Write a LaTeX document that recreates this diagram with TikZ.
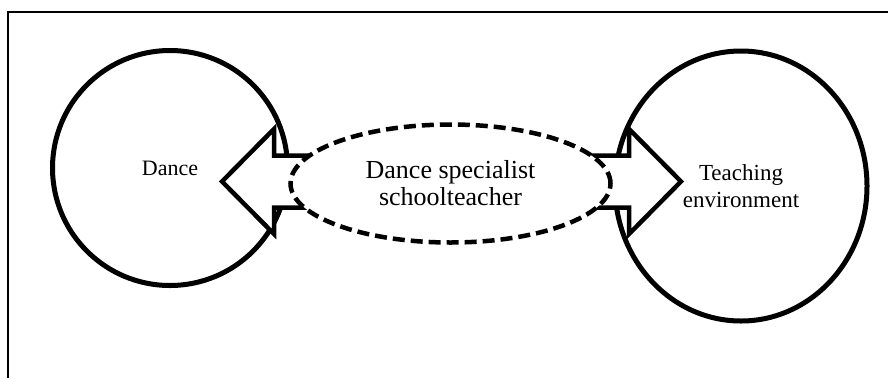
\documentclass[tikz,border=0pt]{standalone}
\usepackage{fontspec}
\setmainfont{Liberation Serif}
\usetikzlibrary{shapes.geometric}
\pgfdeclarelayer{back}
\pgfdeclarelayer{mid}
\pgfsetlayers{back,mid,main}
\begin{document}
\begin{tikzpicture}[x=1pt,y=-1pt,
  ring/.style={draw, line width=5pt, fill=white, inner sep=0pt, align=center},
  blockarrow/.style={draw, line width=4.5pt, fill=white, line join=miter},
  hub/.style={ellipse, draw, line width=4.5pt, dash pattern=on 12pt off 6pt,
    fill=white, inner sep=0pt, align=center},
  frameline/.style={line width=2.2pt}]
  \useasboundingbox (0,0) rectangle (888,378);

  % open frame: top and left edges
  \draw[frameline] (8,378) -- (8,12) -- (888,12);

  % the two domains
  \begin{pgfonlayer}{back}
    \node[ring, circle, minimum size=235pt,
      font=\fontsize{22}{26}\selectfont] (dance) at (170,168) {Dance};
    \node[ring, ellipse, minimum width=252pt, minimum height=270pt,
      font=\fontsize{23}{27}\selectfont] (env) at (741,186) {Teaching\\environment};
  \end{pgfonlayer}

  % the teacher in between
  \node[hub, minimum width=320pt, minimum height=118pt,
    font=\fontsize{26}{27}\selectfont] (teacher) at (450.5,183.5)
    {Dance specialist\\schoolteacher};

  % block arrows from the teacher towards each domain
  \begin{pgfonlayer}{mid}
    \draw[blockarrow] (teacher.center) ++(-120.5,-28)
      -- ++(-56,0) -- ++(0,-26.5) -- ++(-52,52.5) -- ++(52,52.5)
      -- ++(0,-26.5) -- ++(56,0) -- cycle;
    \draw[blockarrow] (teacher.center) ++(119.5,-28)
      -- ++(59,0) -- ++(0,-26.5) -- ++(52,52.5) -- ++(-52,52.5)
      -- ++(0,-26.5) -- ++(-59,0) -- cycle;
  \end{pgfonlayer}
\end{tikzpicture}
\end{document}
